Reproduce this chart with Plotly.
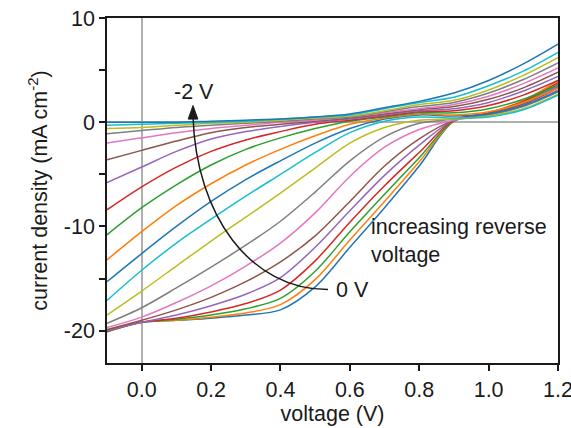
import plotly.graph_objects as go

# voltage grid (V)
voltage = [-0.1, 0.0, 0.1, 0.2, 0.3, 0.4, 0.5, 0.6, 0.7, 0.8, 0.9, 1.0, 1.1, 1.2]

# current density (mA cm^-2), one curve per pre-bias step, 0 V ... -2 V
j_0p0 = [-20.1, -19.2, -19.0, -18.8, -18.5, -18.0, -15.8, -12.0, -8.2, -4.2, 0.1, 0.8, 1.8, 3.4]
j_0p1 = [-20.1, -19.2, -19.0, -18.7, -18.3, -17.5, -15.1, -11.3, -7.6, -3.8, 0.1, 0.9, 2.1, 4.0]
j_0p2 = [-20.1, -19.2, -18.9, -18.5, -17.9, -16.9, -14.3, -10.5, -6.9, -3.4, 0.1, 0.8, 1.9, 3.6]
j_0p3 = [-20.0, -19.2, -18.8, -18.2, -17.4, -16.1, -13.3, -9.6, -6.1, -2.9, 0.2, 0.9, 2.0, 3.8]
j_0p4 = [-20.0, -19.2, -18.5, -17.6, -16.5, -14.9, -12.0, -8.5, -5.1, -2.2, 0.2, 0.8, 1.8, 3.5]
j_0p5 = [-19.9, -19.0, -18.0, -16.8, -15.3, -13.4, -10.9, -7.6, -4.2, -1.6, 0.2, 0.8, 1.7, 3.3]
j_0p6 = [-19.7, -18.7, -17.3, -15.7, -13.8, -11.6, -8.7, -5.2, -2.4, -0.7, 0.2, 0.7, 1.6, 3.1]
j_0p7 = [-19.3, -17.8, -15.9, -13.9, -11.8, -9.5, -6.7, -3.7, -1.4, -0.1, 0.3, 0.7, 1.5, 2.9]
j_0p8 = [-18.5, -16.2, -13.8, -11.4, -9.1, -6.8, -4.4, -2.0, -0.5, 0.2, 0.3, 0.6, 1.3, 2.7]
j_0p9 = [-17.1, -14.2, -11.6, -9.3, -7.1, -5.0, -2.9, -1.0, 0.1, 0.5, 0.4, 0.5, 1.2, 2.6]
j_1p0 = [-15.3, -12.6, -10.0, -7.6, -5.5, -3.7, -2.0, -0.6, 0.3, 0.7, 0.6, 0.8, 1.6, 3.0]
j_1p1 = [-13.2, -10.5, -8.0, -5.9, -4.1, -2.6, -1.3, -0.2, 0.4, 0.8, 0.7, 1.0, 1.9, 3.3]
j_1p2 = [-10.8, -8.2, -6.0, -4.1, -2.6, -1.5, -0.6, 0.1, 0.5, 0.9, 0.9, 1.3, 2.2, 3.6]
j_1p3 = [-8.4, -6.2, -4.3, -2.8, -1.7, -0.9, -0.2, 0.2, 0.6, 1.0, 1.1, 1.6, 2.6, 4.0]
j_1p4 = [-5.8, -4.3, -2.8, -1.6, -0.9, -0.4, 0.0, 0.3, 0.7, 1.1, 1.3, 1.9, 3.0, 4.4]
j_1p5 = [-3.6, -2.7, -1.8, -1.0, -0.5, -0.2, 0.1, 0.4, 0.8, 1.2, 1.5, 2.2, 3.3, 4.8]
j_1p6 = [-2.0, -1.5, -1.0, -0.6, -0.3, 0.0, 0.2, 0.5, 0.9, 1.3, 1.7, 2.5, 3.7, 5.2]
j_1p7 = [-1.1, -0.8, -0.5, -0.3, -0.1, 0.1, 0.3, 0.5, 1.0, 1.5, 1.9, 2.8, 4.1, 5.7]
j_1p8 = [-0.6, -0.5, -0.3, -0.1, 0.0, 0.2, 0.4, 0.6, 1.1, 1.7, 2.1, 3.1, 4.5, 6.2]
j_1p9 = [-0.3, -0.2, -0.1, 0.0, 0.1, 0.3, 0.5, 0.7, 1.3, 1.9, 2.4, 3.5, 4.9, 6.7]
j_2p0 = [0.0, 0.0, 0.0, 0.1, 0.2, 0.3, 0.5, 0.8, 1.4, 2.0, 2.8, 4.0, 5.6, 7.5]

bias_labels = ["0 V", "-0.1 V", "-0.2 V", "-0.3 V", "-0.4 V", "-0.5 V", "-0.6 V",
               "-0.7 V", "-0.8 V", "-0.9 V", "-1.0 V", "-1.1 V", "-1.2 V", "-1.3 V",
               "-1.4 V", "-1.5 V", "-1.6 V", "-1.7 V", "-1.8 V", "-1.9 V", "-2.0 V"]
curves = [j_0p0, j_0p1, j_0p2, j_0p3, j_0p4, j_0p5, j_0p6, j_0p7, j_0p8, j_0p9, j_1p0,
          j_1p1, j_1p2, j_1p3, j_1p4, j_1p5, j_1p6, j_1p7, j_1p8, j_1p9, j_2p0]

x_ticks = [0.0, 0.2, 0.4, 0.6, 0.8, 1.0, 1.2]
y_ticks = [10, 0, -10, -20]
y_ticktext = ["10", "0", "-10", "-20"]

palette = ['#1f77b4', '#ff7f0e', '#2ca02c', '#d62728', '#9467bd',
           '#8c564b', '#e377c2', '#7f7f7f', '#bcbd22', '#17becf']

FONT = "Liberation Sans, Arial, sans-serif"
TXT = "#1a1a1a"
FS = 21.5

fig = go.Figure()
for i, (lab, j) in enumerate(zip(bias_labels, curves)):
    fig.add_trace(go.Scatter(
        x=voltage, y=j, mode="lines", name=lab,
        line=dict(color=palette[i % 10], width=1.5, shape="spline", smoothing=0.9),
        showlegend=False, hoverinfo="x+y+name"))

# curved arrow (annotation graphic) and its head
fig.add_shape(type="path",
              path="M 0.537,-16.06 C 0.312,-16.06 0.157,-8.87 0.148,0.5",
              xref="x", yref="y", line=dict(color="#1a1a1a", width=1.5))
fig.add_shape(type="path",
              path="M 0.148,1.6 L 0.134,0.3 L 0.162,0.3 Z",
              xref="x", yref="y", fillcolor="#1a1a1a", line=dict(color="#1a1a1a", width=1))

fig.add_annotation(x=0.151, y=2.92, text="-2 V", showarrow=False,
                   font=dict(size=FS, color=TXT, family=FONT))
fig.add_annotation(x=0.555, y=-16.06, text="0 V", showarrow=False, xanchor="left",
                   font=dict(size=FS, color=TXT, family=FONT))
fig.add_annotation(x=0.656, y=-11.4, text="increasing reverse<br>voltage",
                   showarrow=False, xanchor="left", align="left",
                   font=dict(size=FS, color=TXT, family=FONT))

fig.update_layout(
    width=571, height=428,
    margin=dict(l=107, r=13, t=18, b=65, autoexpand=False),
    paper_bgcolor="white", plot_bgcolor="white",
    font=dict(family=FONT, size=FS, color=TXT),
)
fig.update_xaxes(
    range=[-0.1, 1.2], tickvals=x_ticks, tickformat=".1f",
    ticks="outside", ticklen=6, tickwidth=1.5, tickcolor="#1a1a1a",
    showline=True, linecolor="#1a1a1a", linewidth=1.5, mirror=True,
    showgrid=False, zeroline=True, zerolinecolor="#b0b0b0", zerolinewidth=1.5,
    title=dict(text="voltage (V)", standoff=4, font=dict(size=FS)),
    tickfont=dict(size=FS), automargin=False, ticklabeloverflow="allow",
)
fig.update_yaxes(
    range=[-23.1, 10], tickvals=y_ticks, ticktext=y_ticktext,
    ticks="outside", ticklen=6, tickwidth=1.5, tickcolor="#1a1a1a",
    minor=dict(ticks="outside", dtick=5, tick0=0, ticklen=6, tickwidth=1.5, tickcolor="#1a1a1a"),
    showline=True, linecolor="#1a1a1a", linewidth=1.5, mirror=True,
    showgrid=False, zeroline=True, zerolinecolor="#b0b0b0", zerolinewidth=1.5,
    title=dict(text="current density (mA cm<sup>-2</sup>)", standoff=10, font=dict(size=FS)),
    tickfont=dict(size=FS), automargin=False, ticklabeloverflow="allow",
)

fig.write_html("out.html")
